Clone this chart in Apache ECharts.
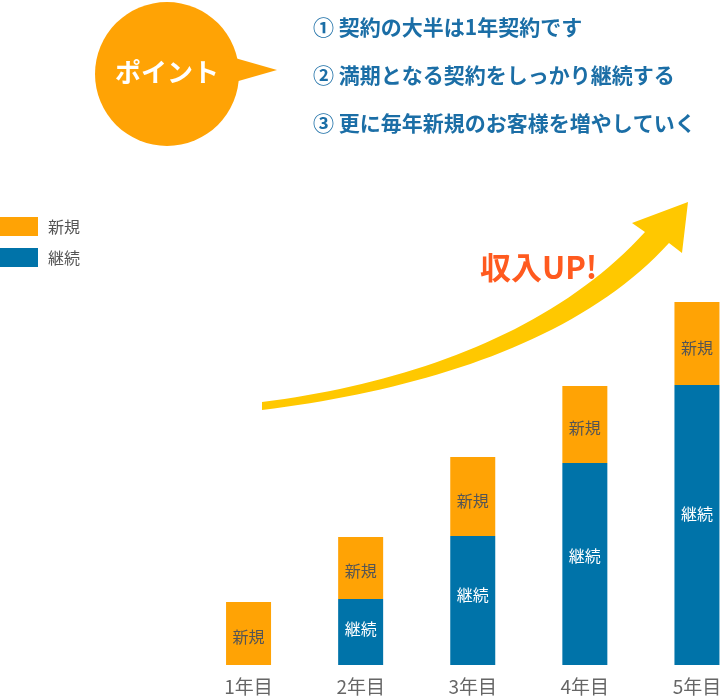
<!DOCTYPE html>
<html>
<head>
<meta charset="utf-8">
<script src="https://cdn.jsdelivr.net/npm/echarts@6/dist/echarts.min.js"></script>
<style>
  html, body { margin: 0; padding: 0; background: #fff; }
  #chart { width: 723px; height: 697px; }
</style>
</head>
<body>
<div id="chart"></div>
<script>
// ---- data ----
const categories = ['1年目', '2年目', '3年目', '4年目', '5年目'];
const continuingValues = [0, 66, 129, 202, 280];   // 継続
const newValues = [63, 62, 79, 77, 83];             // 新規
const seriesNames = ['新規', '継続'];
const points = [
  '① 契約の大半は1年契約です',
  '② 満期となる契約をしっかり継続する',
  '③ 更に毎年新規のお客様を増やしていく'
];
const bubbleLabel = 'ポイント';
const arrowLabel = '収入UP!';

const ORANGE = '#ffa305';
const BLUE = '#0073a9';
const FONT = '"Noto Sans CJK JP", "Noto Sans", sans-serif';

const chart = echarts.init(document.getElementById('chart'), null, { renderer: 'canvas' });

// decorative arrow outline (cubic bezier edges sampled into a polygon)
function bez(p0, p1, p2, p3, n) {
  const out = [];
  for (let i = 0; i <= n; i++) {
    const t = i / n, u = 1 - t;
    out.push([
      u*u*u*p0[0] + 3*u*u*t*p1[0] + 3*u*t*t*p2[0] + t*t*t*p3[0],
      u*u*u*p0[1] + 3*u*u*t*p1[1] + 3*u*t*t*p2[1] + t*t*t*p3[1]
    ]);
  }
  return out;
}
const upper = bez([262, 402], [412, 383], [555, 331], [645, 232], 40);
const lower = bez([669, 243], [579, 342], [422, 390], [262, 410], 40);
const arrowPts = upper.concat([[632, 223], [688, 202], [682, 253]], lower);

const pointTexts = points.map((t, i) => ({
  type: 'text',
  x: 313,
  y: 27 + i * 48,
  style: {
    text: t,
    fill: '#1b6ea6',
    font: 'bold 21px ' + FONT,
    verticalAlign: 'middle'
  }
}));

const option = {
  backgroundColor: '#ffffff',
  animation: false,
  legend: {
    data: seriesNames,
    orient: 'vertical',
    left: 0,
    top: 217,
    padding: 0,
    itemWidth: 38,
    itemHeight: 19,
    itemGap: 12,
    icon: 'rect',
    textStyle: { color: '#555', fontSize: 16, fontFamily: FONT, padding: [0, 0, 0, 5] }
  },
  grid: { left: 192.5, width: 560.5, top: 0, bottom: 32, outerBoundsMode: 'none', containLabel: false },
  xAxis: {
    type: 'category',
    data: categories,
    axisLine: { show: false },
    axisTick: { show: false },
    axisLabel: { color: '#666', fontSize: 19, fontFamily: FONT, margin: 12 }
  },
  yAxis: {
    type: 'value',
    min: 0,
    max: 665,
    show: false,
    splitLine: { show: false }
  },
  series: [
    {
      name: '継続',
      type: 'bar',
      stack: 'total',
      barWidth: 45,
      data: continuingValues,
      itemStyle: { color: BLUE },
      label: {
        show: true,
        position: ['50%', '46%'],
        align: 'center',
        verticalAlign: 'middle',
        color: '#fff',
        fontSize: 16,
        fontFamily: FONT,
        formatter: p => (p.value > 0 ? '継続' : '')
      }
    },
    {
      name: '新規',
      type: 'bar',
      stack: 'total',
      barWidth: 45,
      data: newValues,
      itemStyle: { color: ORANGE },
      label: {
        show: true,
        position: ['50%', '55%'],
        align: 'center',
        verticalAlign: 'middle',
        color: '#555',
        fontSize: 16,
        fontFamily: FONT,
        formatter: () => '新規'
      }
    }
  ],
  graphic: [
    {
      type: 'circle',
      shape: { cx: 167, cy: 74, r: 72 },
      style: { fill: ORANGE }
    },
    {
      type: 'polygon',
      shape: { points: [[228, 56], [277, 70], [228, 84]] },
      style: { fill: ORANGE }
    },
    {
      type: 'text',
      x: 167,
      y: 72,
      style: {
        text: bubbleLabel,
        fill: '#fff',
        font: 'bold 26px ' + FONT,
        align: 'center',
        verticalAlign: 'middle'
      }
    },
    ...pointTexts,
    {
      type: 'polygon',
      shape: { points: arrowPts },
      style: { fill: '#ffc800' }
    },
    {
      type: 'text',
      x: 480,
      y: 267,
      style: {
        text: arrowLabel,
        fill: '#ff5a1f',
        font: 'bold 31px ' + FONT,
        verticalAlign: 'middle'
      }
    }
  ]
};

chart.setOption(option);
</script>
</body>
</html>
